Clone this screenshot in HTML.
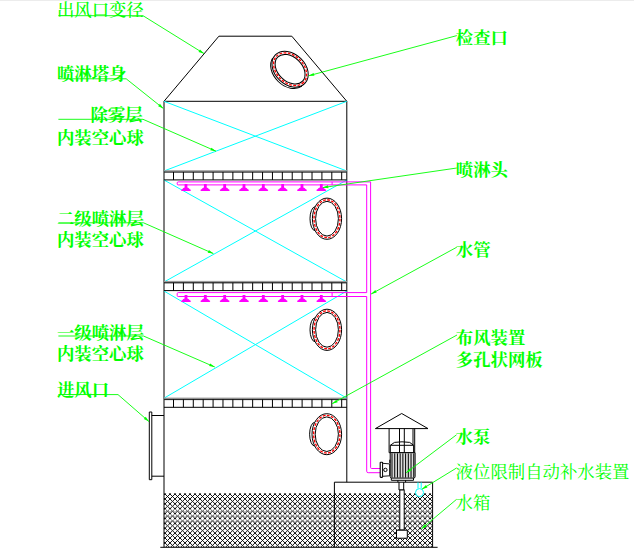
<!DOCTYPE html>
<html lang="zh-CN"><head><meta charset="utf-8"><title>喷淋塔结构示意图</title>
<style>
html,body{margin:0;padding:0;background:#fff;}
body{width:634px;height:553px;overflow:hidden;position:relative;}
svg{position:absolute;left:0;top:0;display:block;}
.k{stroke:#000;fill:none;stroke-width:1;}
.c{stroke:#00ffff;fill:none;stroke-width:1;}
.m{stroke:#ff00ff;fill:none;stroke-width:1;}
.mf{fill:#ff00ff;stroke:none;}
.g{stroke:#00ff00;fill:none;stroke-width:0.9;}
.gf{fill:#00ff00;stroke:none;}
text{font-family:"Liberation Serif","Noto Serif CJK SC",serif;font-size:17.4px;fill:#00ff00;}
.b{font-weight:700;}
.r{font-weight:400;}
.md{font-weight:500;}
</style></head><body>
<svg width="634" height="553" viewBox="0 0 634 553">
<defs>
<pattern id="hatch" x="165" y="494.06" width="5" height="4.885" patternUnits="userSpaceOnUse">
<path d="M0 0L5 4.885M5 0L0 4.885M-1 3.908L1 5.862M4 -0.977L6 0.977M-1 0.977L1 -0.977M4 5.862L6 3.908" stroke="#000" stroke-width="0.92" fill="none"/>
</pattern>
</defs>
<rect x="0" y="0" width="634" height="1" fill="#ececec"/>

<rect x="164.0" y="493.3" width="170.39999999999998" height="53.69999999999999" fill="url(#hatch)"/>
<rect x="334.4" y="493.3" width="98.20000000000005" height="53.69999999999999" fill="url(#hatch)"/>
<rect x="164.5" y="509.3" width="268" height="1" fill="#fff" opacity="0.55"/>
<rect x="164.5" y="511.0" width="268" height="1" fill="#555" opacity="0.35"/>
<rect x="164.5" y="514.2" width="268" height="1" fill="#fff" opacity="0.55"/>
<rect x="164.5" y="515.9000000000001" width="268" height="1" fill="#555" opacity="0.35"/>
<rect x="164.5" y="519.2" width="268" height="1" fill="#fff" opacity="0.55"/>
<rect x="164.5" y="520.9000000000001" width="268" height="1" fill="#555" opacity="0.35"/>
<path class="k" d="M164.0 547.3V101.3H346.8V482.2"/>
<path class="k" d="M164.0 101.3L218.9 36.2H291.8L346.8 101.3"/>
<path class="k" d="M160.3 547.3H437.6" stroke-width="1.2"/>
<path class="c" d="M164.0 101.3L346.8 171.0M164.0 171.0L346.8 101.3"/>
<path class="c" d="M164.0 180.0L346.8 282.0M164.0 282.0L346.8 180.0"/>
<path class="c" d="M164.0 291.0L346.8 398.2M164.0 398.2L346.8 291.0"/>
<rect x="164.0" y="170.2" width="182.8" height="1.2" fill="#9a9a9a"/>
<rect x="164.0" y="171.4" width="182.8" height="1.3" fill="#2a2a2a"/>
<path class="k" d="M164.0 179.9H346.8" stroke="#333"/>
<path class="k" d="M173.50 172.0V179.9M183.39 172.0V179.9M193.29 172.0V179.9M203.18 172.0V179.9M213.08 172.0V179.9M222.97 172.0V179.9M232.86 172.0V179.9M242.76 172.0V179.9M252.65 172.0V179.9M262.55 172.0V179.9M272.44 172.0V179.9M282.33 172.0V179.9M292.23 172.0V179.9M302.12 172.0V179.9M312.02 172.0V179.9M321.91 172.0V179.9M331.80 172.0V179.9M341.70 172.0V179.9" stroke="#111" stroke-width="1.1"/>
<rect x="164.0" y="280.9" width="182.8" height="1.2" fill="#9a9a9a"/>
<rect x="164.0" y="282.09999999999997" width="182.8" height="1.3" fill="#2a2a2a"/>
<path class="k" d="M164.0 290.59999999999997H346.8" stroke="#333"/>
<path class="k" d="M173.50 282.7V290.59999999999997M183.39 282.7V290.59999999999997M193.29 282.7V290.59999999999997M203.18 282.7V290.59999999999997M213.08 282.7V290.59999999999997M222.97 282.7V290.59999999999997M232.86 282.7V290.59999999999997M242.76 282.7V290.59999999999997M252.65 282.7V290.59999999999997M262.55 282.7V290.59999999999997M272.44 282.7V290.59999999999997M282.33 282.7V290.59999999999997M292.23 282.7V290.59999999999997M302.12 282.7V290.59999999999997M312.02 282.7V290.59999999999997M321.91 282.7V290.59999999999997M331.80 282.7V290.59999999999997M341.70 282.7V290.59999999999997" stroke="#111" stroke-width="1.1"/>
<rect x="164.0" y="397.59999999999997" width="182.8" height="1.2" fill="#9a9a9a"/>
<rect x="164.0" y="398.79999999999995" width="182.8" height="1.3" fill="#2a2a2a"/>
<path class="k" d="M164.0 407.29999999999995H346.8" stroke="#333"/>
<path class="k" d="M173.50 399.4V407.29999999999995M183.39 399.4V407.29999999999995M193.29 399.4V407.29999999999995M203.18 399.4V407.29999999999995M213.08 399.4V407.29999999999995M222.97 399.4V407.29999999999995M232.86 399.4V407.29999999999995M242.76 399.4V407.29999999999995M252.65 399.4V407.29999999999995M262.55 399.4V407.29999999999995M272.44 399.4V407.29999999999995M282.33 399.4V407.29999999999995M292.23 399.4V407.29999999999995M302.12 399.4V407.29999999999995M312.02 399.4V407.29999999999995M321.91 399.4V407.29999999999995M331.80 399.4V407.29999999999995M341.70 399.4V407.29999999999995" stroke="#111" stroke-width="1.1"/>
<path class="m" d="M370.6 181.9H178.2Q177.2 181.9 177.2 182.9V183.9Q177.2 184.9 178.2 184.9H366.7"/>
<path class="m" d="M332.1 181.9V184.9"/>
<path class="mf" d="M184.60 184.1H187.40V187.4L188.60 187.9L189.50 188.9L191.00 189.9L190.40 191.0H181.60L181.00 189.9L182.50 188.9L183.40 187.9L184.60 187.4Z"/>
<path class="mf" d="M203.93 184.1H206.73V187.4L207.93 187.9L208.83 188.9L210.33 189.9L209.73 191.0H200.93L200.33 189.9L201.83 188.9L202.73 187.9L203.93 187.4Z"/>
<path class="mf" d="M223.26 184.1H226.06V187.4L227.26 187.9L228.16 188.9L229.66 189.9L229.06 191.0H220.26L219.66 189.9L221.16 188.9L222.06 187.9L223.26 187.4Z"/>
<path class="mf" d="M242.59 184.1H245.39V187.4L246.59 187.9L247.49 188.9L248.99 189.9L248.39 191.0H239.59L238.99 189.9L240.49 188.9L241.39 187.9L242.59 187.4Z"/>
<path class="mf" d="M261.92 184.1H264.72V187.4L265.92 187.9L266.82 188.9L268.32 189.9L267.72 191.0H258.92L258.32 189.9L259.82 188.9L260.72 187.9L261.92 187.4Z"/>
<path class="mf" d="M281.25 184.1H284.05V187.4L285.25 187.9L286.15 188.9L287.65 189.9L287.05 191.0H278.25L277.65 189.9L279.15 188.9L280.05 187.9L281.25 187.4Z"/>
<path class="mf" d="M300.58 184.1H303.38V187.4L304.58 187.9L305.48 188.9L306.98 189.9L306.38 191.0H297.58L296.98 189.9L298.48 188.9L299.38 187.9L300.58 187.4Z"/>
<path class="mf" d="M319.91 184.1H322.71V187.4L323.91 187.9L324.81 188.9L326.31 189.9L325.71 191.0H316.91L316.31 189.9L317.81 188.9L318.71 187.9L319.91 187.4Z"/>
<path class="m" d="M370.6 181.9V467.5Q370.6 468.5 371.6 468.5H380.2"/>
<path class="m" d="M366.7 184.9V292.6M366.7 296.5V471.2Q366.7 472.7 368.2 472.7H380.2"/>
<path class="m" d="M366.7 292.6H178.2Q177.2 292.6 177.2 293.6V295.5Q177.2 296.5 178.2 296.5H366.7"/>
<path class="m" d="M332.1 292.6V296.5"/>
<path class="mf" d="M184.60 295.09999999999997H187.40V298.4L188.60 298.9L189.50 299.9L191.00 300.9L190.40 302.0H181.60L181.00 300.9L182.50 299.9L183.40 298.9L184.60 298.4Z"/>
<path class="mf" d="M203.93 295.09999999999997H206.73V298.4L207.93 298.9L208.83 299.9L210.33 300.9L209.73 302.0H200.93L200.33 300.9L201.83 299.9L202.73 298.9L203.93 298.4Z"/>
<path class="mf" d="M223.26 295.09999999999997H226.06V298.4L227.26 298.9L228.16 299.9L229.66 300.9L229.06 302.0H220.26L219.66 300.9L221.16 299.9L222.06 298.9L223.26 298.4Z"/>
<path class="mf" d="M242.59 295.09999999999997H245.39V298.4L246.59 298.9L247.49 299.9L248.99 300.9L248.39 302.0H239.59L238.99 300.9L240.49 299.9L241.39 298.9L242.59 298.4Z"/>
<path class="mf" d="M261.92 295.09999999999997H264.72V298.4L265.92 298.9L266.82 299.9L268.32 300.9L267.72 302.0H258.92L258.32 300.9L259.82 299.9L260.72 298.9L261.92 298.4Z"/>
<path class="mf" d="M281.25 295.09999999999997H284.05V298.4L285.25 298.9L286.15 299.9L287.65 300.9L287.05 302.0H278.25L277.65 300.9L279.15 299.9L280.05 298.9L281.25 298.4Z"/>
<path class="mf" d="M300.58 295.09999999999997H303.38V298.4L304.58 298.9L305.48 299.9L306.98 300.9L306.38 302.0H297.58L296.98 300.9L298.48 299.9L299.38 298.9L300.58 298.4Z"/>
<path class="mf" d="M319.91 295.09999999999997H322.71V298.4L323.91 298.9L324.81 299.9L326.31 300.9L325.71 302.0H316.91L316.31 300.9L317.81 299.9L318.71 298.9L319.91 298.4Z"/>
<g>
<path class="k" d="M315.10 206.75A5.1 11.95 0 0 0 315.10 230.65" stroke-width="0.8" stroke="#222"/>
<ellipse cx="327.0" cy="218.7" rx="14.6" ry="20.6" fill="#fff" stroke="#000" stroke-width="1"/>
<ellipse cx="327.0" cy="218.7" rx="12.95" ry="18.950000000000003" fill="none" stroke="#ff0000" stroke-width="1.35" stroke-dasharray="2.8 1.4"/>
<ellipse cx="327.0" cy="218.7" rx="11.399999999999999" ry="17.400000000000002" fill="#fff" stroke="#000" stroke-width="1"/>
</g>
<g>
<path class="k" d="M315.10 317.85A5.1 11.95 0 0 0 315.10 341.75" stroke-width="0.8" stroke="#222"/>
<ellipse cx="327.0" cy="329.8" rx="14.6" ry="20.6" fill="#fff" stroke="#000" stroke-width="1"/>
<ellipse cx="327.0" cy="329.8" rx="12.95" ry="18.950000000000003" fill="none" stroke="#ff0000" stroke-width="1.35" stroke-dasharray="2.8 1.4"/>
<ellipse cx="327.0" cy="329.8" rx="11.399999999999999" ry="17.400000000000002" fill="#fff" stroke="#000" stroke-width="1"/>
</g>
<g>
<path class="k" d="M314.74 422.31A5.1 11.89 0 0 0 314.74 446.09" stroke-width="0.8" stroke="#222"/>
<ellipse cx="326.8" cy="434.2" rx="14.8" ry="20.5" fill="#fff" stroke="#000" stroke-width="1"/>
<ellipse cx="326.8" cy="434.2" rx="13.15" ry="18.85" fill="none" stroke="#ff0000" stroke-width="1.35" stroke-dasharray="2.8 1.4"/>
<ellipse cx="326.8" cy="434.2" rx="11.600000000000001" ry="17.3" fill="#fff" stroke="#000" stroke-width="1"/>
</g>
<g transform="rotate(44 290.1 69.2)">
<path class="k" d="M310.40 73.22A20.5 15.2 0 0 1 269.80 73.22" stroke-width="0.8" stroke="#222"/>
<ellipse cx="290.1" cy="69.2" rx="20.5" ry="15.2" fill="#fff" stroke="#000" stroke-width="1"/>
<ellipse cx="290.1" cy="69.2" rx="18.85" ry="13.549999999999999" fill="none" stroke="#ff0000" stroke-width="1.35" stroke-dasharray="2.8 1.4"/>
<ellipse cx="290.1" cy="69.2" rx="17.3" ry="12.0" fill="#fff" stroke="#000" stroke-width="1"/>
</g>
<path class="k" d="M149.3 412H151.8V479.7H149.3Z"/>
<path class="k" d="M151.8 415.5H164.0M151.8 476.2H164.0"/>
<path class="k" d="M334.4 547.3V482.2H432.6V547.3"/>
<path class="k" d="M401.7 413.5L375.4 428.6H428.0Z"/>
<path class="k" d="M389.1 428.6V452.7H414.7V428.6" stroke-width="1.4"/>
<path class="k" d="M399.5 428.6V453M404.3 428.6V453M413 429V445" stroke-width="0.8" stroke="#333"/>
<path class="k" d="M390.3 452.5V445.3L394.5 442.4Q402 441.2 409.7 442.4L413.6 445.3V452.5M390.3 445.3H413.6" stroke-width="0.9"/>
<path d="M390.2 452.7H415.1V476.6Q415.1 478.1 413.6 478.1H391.7Q390.2 478.1 390.2 476.6Z" fill="#dcdcdc" stroke="#000" stroke-width="1"/>
<path class="k" d="M392.00 453.4V477.6M394.72 453.4V477.6M397.44 453.4V477.6M400.16 453.4V477.6M402.88 453.4V477.6M405.60 453.4V477.6M408.32 453.4V477.6M411.04 453.4V477.6M413.76 453.4V477.6" stroke-width="1.05" stroke="#222"/>
<path class="k" d="M391.3 478.1V480.3H413.5V478.1"/>
<path class="k" d="M397.9 480.3V482.2M405.6 480.3V482.2M399 482.2V490M403.7 482.2V490M399 490H403.7"/>
<path class="k" d="M389.8 459.7V463" stroke-width="1.2"/>
<rect x="380.2" y="462.2" width="2.4" height="15.2" rx="0.6" fill="#fff" stroke="#000" stroke-width="1.1"/>
<path d="M382.6 463.3L389.6 463.9V475.8L382.6 476.3Z" fill="#fff" stroke="#000" stroke-width="0.9"/>
<circle class="k" cx="385.4" cy="469.9" r="1.7" stroke-width="0.8"/>
<rect x="399.8" y="490" width="4.4" height="40" fill="#fff" stroke="#000" stroke-width="1"/>
<rect x="396.5" y="530.2" width="10.8" height="8" fill="#fff" stroke="#000" stroke-width="1"/>
<path class="c" d="M418 482.4V488.6M421.2 482.4V488.6"/>
<circle cx="419.5" cy="492.6" r="4.0" fill="#fff" stroke="#00ffff" stroke-width="1"/>
<path class="g" d="M58.4 15.7L143 15.7L204 53.6"/>
<path class="gf" d="M204 53.6L198.48 51.88L200.01 49.41Z"/>
<path class="g" d="M58.4 78.8L126.2 78.8L163.4 108.5"/>
<path class="gf" d="M163.4 108.5L158.12 106.14L159.93 103.87Z"/>
<path class="g" d="M58.4 119.3L143 119.3L216 151.2"/>
<path class="gf" d="M216 151.2L210.29 150.29L211.45 147.63Z"/>
<path class="g" d="M58.4 222.8L143.5 222.8L213.4 253.6"/>
<path class="gf" d="M213.4 253.6L207.69 252.67L208.86 250.02Z"/>
<path class="g" d="M58.4 336.0L143.5 336.0L214.8 367"/>
<path class="gf" d="M214.8 367L209.09 366.10L210.24 363.44Z"/>
<path class="g" d="M58.4 394.5L118 394.6L149 421.6"/>
<path class="gf" d="M149 421.6L143.82 419.02L145.73 416.83Z"/>
<path class="g" d="M456.8 35.6L308.6 75.8"/>
<path class="gf" d="M308.6 75.8L313.63 72.93L314.38 75.73Z"/>
<path class="g" d="M456.8 168L322.7 187.6"/>
<path class="gf" d="M322.7 187.6L328.03 185.36L328.45 188.22Z"/>
<path class="g" d="M456.8 247.2L371.1 294"/>
<path class="gf" d="M371.1 294L375.32 290.04L376.71 292.59Z"/>
<path class="g" d="M457 335L332.1 403.7"/>
<path class="gf" d="M332.1 403.7L336.31 399.73L337.71 402.27Z"/>
<path class="g" d="M456.5 434.8L406.2 472.7"/>
<path class="gf" d="M406.2 472.7L409.80 468.17L411.55 470.49Z"/>
<path class="g" d="M456.5 468L421.9 489.2"/>
<path class="gf" d="M421.9 489.2L425.92 485.04L427.43 487.51Z"/>
<path class="g" d="M456.5 499.4L421.4 528.9"/>
<path class="gf" d="M421.4 528.9L424.75 524.19L426.62 526.41Z"/>
<text class="md" x="56.9" y="15.9">出风口变径</text>
<text class="b" x="56.9" y="79.5">喷淋塔身</text>
<text class="b" x="90.4" y="120.8">除雾层</text>
<text class="b" x="56.9" y="143.5">内装空心球</text>
<text class="b" x="56.9" y="224.5">二级喷淋层</text>
<text class="b" x="56.9" y="246.3">内装空心球</text>
<text class="b" x="56.9" y="338.5">一级喷淋层</text>
<text class="b" x="56.9" y="360.3">内装空心球</text>
<text class="b" x="56.9" y="395.5">进风口</text>
<text class="b" x="455.8" y="44.3">检查口</text>
<text class="b" x="455.8" y="176">喷淋头</text>
<text class="b" x="455.8" y="256">水管</text>
<text class="b" x="455.8" y="343.8">布风装置</text>
<text class="b" x="455.8" y="365.8">多孔状网板</text>
<text class="b" x="455.6" y="443">水泵</text>
<text class="r" x="455.6" y="477.5">液位限制自动补水装置</text>
<text class="r" x="455.6" y="509.3">水箱</text>
</svg>
</body></html>
